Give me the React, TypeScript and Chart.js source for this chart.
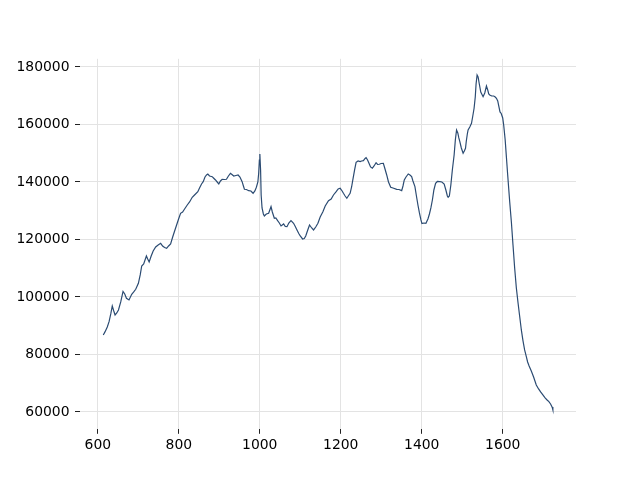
import React, { useEffect, useRef } from "react";
import { Chart, registerables } from "chart.js";

Chart.register(...registerables);

const wavelength: number[] = [
  613.5, 618, 623.4, 627.8, 632, 635.7, 639.4, 642.6, 646.8, 651, 656.6, 662.3, 666.5, 670.7, 677, 683.7,
  688.7, 693.6, 700.2, 704.7, 708.4, 713.3, 720, 723.2, 726.8, 731.8, 736.7, 742.9, 749, 755.2, 760, 765,
  770, 774.8, 779.8, 784.7, 789.7, 794.6, 799.5, 804.4, 809.4, 814.3, 820.9, 826.6, 833.2, 838.9, 847,
  851.2, 856.2, 860.3, 864.7, 868.5, 871.7, 875.9, 882.5, 885.7, 890.6, 894.8, 898.8, 902.9, 907.1, 912.8,
  917.7, 922.6, 927.6, 931.3, 935.7, 941.1, 946.5, 951, 956.4, 959.6, 962.1, 967, 972.6, 978.1, 983.5,
  987.9, 991.6, 995.3, 997.3, 999, 1000.2, 1002, 1003.4, 1005.6, 1008.9, 1011.3, 1016.2, 1021.9, 1027.8,
  1031, 1036, 1039.6, 1044.1, 1048.3, 1052.5, 1058.9, 1063, 1067.2, 1071.7, 1077.1, 1083.5, 1087.7, 1091.9,
  1096.3, 1100, 1105.7, 1109.9, 1113.5, 1118.5, 1122.9, 1128.3, 1132.8, 1138.2, 1143.6, 1149.2, 1155.9,
  1161.6, 1169.7, 1176.3, 1182, 1188.7, 1193.6, 1198.5, 1203.4, 1206.6, 1210.8, 1215, 1219.4, 1223.1,
  1226.8, 1229.8, 1234.2, 1237.9, 1242.8, 1247.8, 1251.5, 1255.9, 1260.1, 1262.6, 1266.2, 1269.2, 1273.6,
  1278, 1282.2, 1287.2, 1290.9, 1295.3, 1299.5, 1305.2, 1309.3, 1313.5, 1317.9, 1323.4, 1329, 1338.2,
  1343.8, 1350.5, 1353.7, 1356.9, 1361.1, 1366.7, 1370.9, 1375.1, 1378.3, 1383.2, 1386.9, 1390.6, 1394.3,
  1398, 1400.5, 1405.4, 1410.3, 1415.3, 1419, 1422.6, 1426.3, 1430, 1434.2, 1438.6, 1444.8, 1449.7, 1455.4,
  1459.6, 1463.3, 1465.2, 1468.2, 1471.9, 1475.6, 1480, 1483, 1486, 1489.1, 1491.6, 1494.1, 1497.8, 1502.2,
  1505.2, 1508.1, 1510.1, 1512.6, 1514.5, 1518.7, 1522.9, 1526.1, 1529.3, 1532.2, 1534.2, 1536.7, 1539.2,
  1542.2, 1545.8, 1551.5, 1555.7, 1559.8, 1563, 1565.5, 1568, 1572.9, 1577.8, 1581.5, 1584.5, 1587.7,
  1590.2, 1593.3, 1596.3, 1600, 1602.4, 1606.1, 1609.1, 1612.3, 1617.2, 1621.4, 1625.4, 1629.5, 1633.7,
  1637.6, 1641.8, 1646, 1649.9, 1654.1, 1658.3, 1661.5, 1665.2, 1670.6, 1676.3, 1682.9, 1688.6, 1693.6,
  1699.2, 1704.7, 1709.6, 1714, 1718.2, 1721.9, 1723.9,
];

const intensity: number[] = [
  86790, 87940, 89570, 91420, 94090, 96880, 95140, 93750, 94440, 95490, 98270, 101920, 101050, 99560, 98960,
  100950, 101750, 102680, 104770, 107660, 110790, 111480, 114270, 113220, 112180, 114270, 116000, 117400,
  118090, 118680, 117740, 117220, 116940, 117740, 118440, 120770, 122960, 125050, 127130, 129120, 129570,
  130610, 132000, 133050, 134680, 135480, 136630, 137920, 139310, 140110, 141740, 142440, 142780, 142090,
  141850, 141390, 140700, 140000, 139310, 140350, 140940, 140870, 140940, 142090, 143030, 142610, 142090,
  142260, 142440, 141740, 140110, 138610, 137460, 137390, 136980, 136870, 136070, 136870, 138160, 140000,
  143030, 147650, 149740, 144180, 135480, 130960, 128870, 128180, 128870, 129120, 131410, 129570, 127380,
  127480, 126540, 125740, 124700, 125400, 124530, 124460, 125740, 126540, 125640, 124530, 123310, 122090,
  121220, 120180, 120350, 121220, 123310, 125050, 124000, 123310, 124350, 125640, 127830, 129670, 131660,
  133500, 134090, 135480, 136630, 137570, 137810, 136870, 136070, 135130, 134330, 135310, 136070, 138260,
  140700, 144180, 146850, 147310, 147070, 147310, 147410, 148180, 148450, 147650, 146720, 145220, 144770,
  145570, 146720, 146090, 146160, 146440, 146510, 144520, 142440, 140000, 138160, 137920, 137460, 137390,
  136980, 138610, 140700, 141740, 142780, 142440, 141850, 140350, 138370, 135130, 132000, 129220, 126790,
  125570, 125740, 125640, 127130, 128870, 130960, 133740, 137220, 139550, 140180, 140110, 140000, 139310,
  137220, 135130, 134680, 135130, 138960, 144180, 149390, 154610, 158090, 157050, 155310, 154020, 151830,
  149980, 150780, 151720, 154260, 156700, 158090, 159130, 160420, 162960, 165640, 169570, 174090, 177220,
  176520, 174090, 171300, 169670, 170960, 173390, 172000, 170610, 170260, 169910, 169910, 169570, 169110,
  168170, 166440, 164350, 163830, 162260, 159830, 154610, 148700, 142440, 133220, 126090, 118090, 110090,
  103140, 98270, 93400, 88530, 84880, 81570, 79240, 77400, 76000, 74270, 72180, 69400, 68010, 66970, 65920,
  64880, 64180, 63590, 62790, 61750, 60700,
];

const xTicks: number[] = [600, 800, 1000, 1200, 1400, 1600];
const yTicks: number[] = [60000, 80000, 100000, 120000, 140000, 160000, 180000];

export default function App() {
  const canvasRef = useRef<HTMLCanvasElement | null>(null);

  useEffect(() => {
    const canvas = canvasRef.current;
    if (!canvas) return;
    const font = { family: "'DejaVu Sans', sans-serif", size: 13.9 };
    const chart = new Chart(canvas, {
      type: "line",
      data: {
        datasets: [
          {
            data: wavelength.map((x, i) => ({ x, y: intensity[i] })),
            borderColor: "#2b4b72",
            borderWidth: 1.2,
            pointRadius: 0,
            tension: 0,
            fill: false,
          },
        ],
      },
      options: {
        animation: false,
        responsive: false,
        maintainAspectRatio: false,
        layout: { padding: { top: 58.8, right: 64, left: 0, bottom: 0 } },
        plugins: { legend: { display: false }, tooltip: { enabled: false } },
        scales: {
          x: {
            type: "linear",
            min: 556,
            max: 1781,
            afterBuildTicks: (scale: any) => {
              scale.ticks = xTicks.map((v) => ({ value: v }));
            },
            afterFit: (scale: any) => {
              scale.height = 51.2;
            },
            border: { display: false },
            grid: {
              color: "#e3e3e3",
              lineWidth: 1,
              drawTicks: true,
              tickLength: 5,
              tickColor: "#222",
            },
            ticks: {
              color: "#000",
              font,
              padding: 3,
              maxRotation: 0,
              autoSkip: false,
              callback: (v: any) => String(v),
            },
          },
          y: {
            type: "linear",
            min: 54150,
            max: 182850,
            afterBuildTicks: (scale: any) => {
              scale.ticks = yTicks.map((v) => ({ value: v }));
            },
            afterFit: (scale: any) => {
              scale.width = 80;
            },
            border: { display: false },
            grid: {
              color: "#e3e3e3",
              lineWidth: 1,
              drawTicks: true,
              tickLength: 5,
              tickColor: "#222",
            },
            ticks: {
              color: "#000",
              font,
              padding: 5.5,
              autoSkip: false,
              callback: (v: any) => String(v),
            },
          },
        },
      },
    });
    return () => chart.destroy();
  }, []);

  return (
    <div style={{ position: "absolute", left: 0, top: 0, width: 640, height: 480, background: "#fff" }}>
      <canvas ref={canvasRef} width={640} height={480} style={{ width: 640, height: 480 }} />
    </div>
  );
}
